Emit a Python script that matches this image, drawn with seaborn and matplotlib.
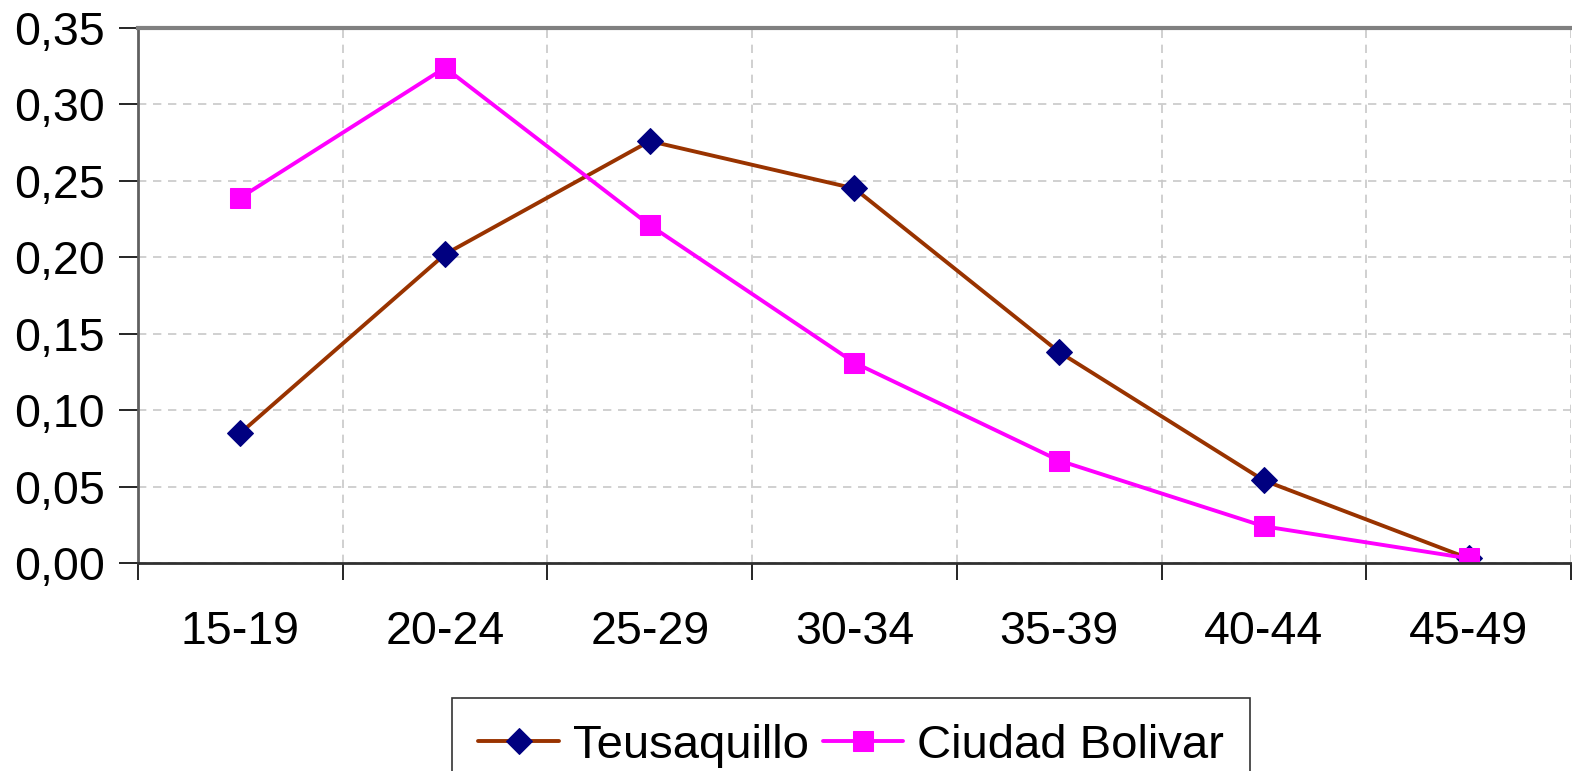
import numpy as np
import pandas as pd
import matplotlib
matplotlib.use("Agg")
import matplotlib.pyplot as plt
import seaborn as sns

grupos = ['15-19', '20-24', '25-29', '30-34', '35-39', '40-44', '45-49']
teusaquillo = [0.085, 0.202, 0.276, 0.245, 0.138, 0.054, 0.003]
ciudad_bolivar = [0.239, 0.324, 0.221, 0.131, 0.067, 0.024, 0.003]
yticks = [0.00, 0.05, 0.10, 0.15, 0.20, 0.25, 0.30, 0.35]
ytick_labels = ['0,00', '0,05', '0,10', '0,15', '0,20', '0,25', '0,30', '0,35']

df = pd.DataFrame({'grupo': grupos, 'pos': range(len(grupos)),
                   'Teusaquillo': teusaquillo, 'Ciudad Bolivar': ciudad_bolivar})

sns.set_style("white")
plt.rcParams['font.family'] = ['Liberation Sans', 'DejaVu Sans']
plt.rcParams['text.color'] = 'black'
plt.rcParams['xtick.color'] = 'black'
plt.rcParams['ytick.color'] = 'black'

fig = plt.figure(figsize=(15.72, 7.71), dpi=100)
ax = fig.add_axes([0.0878, 0.2698, 0.9115, 0.6939])

sns.lineplot(data=df, x='pos', y='Teusaquillo', ax=ax, color='#993300', lw=2.8,
             marker='D', markersize=13, markerfacecolor='#000080',
             markeredgecolor='#000080', label='Teusaquillo')
sns.lineplot(data=df, x='pos', y='Ciudad Bolivar', ax=ax, color='#FF00FF', lw=2.8,
             marker='s', markersize=14, markerfacecolor='#FF00FF',
             markeredgecolor='#FF00FF', label='Ciudad Bolivar')

# eje y
ax.set_ylim(0, 0.35)
ax.set_yticks(yticks)
ax.set_yticklabels(ytick_labels, fontsize=33.5)
ax.tick_params(axis='y', length=14, width=1.2, color='black', pad=10, left=True)

# eje x: rejilla en los limites de cada grupo
ax.set_xlim(-0.5, len(grupos) - 0.5)
ax.set_xticks(range(len(grupos)))
ax.set_xticklabels(grupos, fontsize=33.5)
ax.set_xticks(np.arange(-0.5, len(grupos), 1.0), minor=True)
ax.tick_params(axis='x', which='major', length=0, pad=34)
ax.tick_params(axis='x', which='minor', length=12, width=1.2, color='black', bottom=True)
ax.set_xlabel('')
ax.set_ylabel('')

ax.grid(True, which='major', axis='y', ls=(0, (5, 4)), color='#c8c8c8', lw=1.2)
ax.grid(True, which='minor', axis='x', ls=(0, (5, 4)), color='#c8c8c8', lw=1.2)

ax.spines['top'].set_color('#808080')
ax.spines['top'].set_linewidth(3)
ax.spines['left'].set_color('#606060')
ax.spines['left'].set_linewidth(2)
ax.spines['bottom'].set_color('#303030')
ax.spines['bottom'].set_linewidth(2)
ax.spines['right'].set_visible(False)

ax.get_legend().remove()
handles, labels = ax.get_legend_handles_labels()
leg = fig.legend(handles, labels, loc='upper center', bbox_to_anchor=(0.5416, 0.0947),
                 ncol=2, fontsize=34, frameon=True, fancybox=False,
                 edgecolor='black', handlelength=1.7, handletextpad=0.3,
                 columnspacing=0.3, borderpad=0.55, borderaxespad=0)
leg.get_frame().set_linewidth(1.2)

fig.savefig('out.png', dpi=100)
